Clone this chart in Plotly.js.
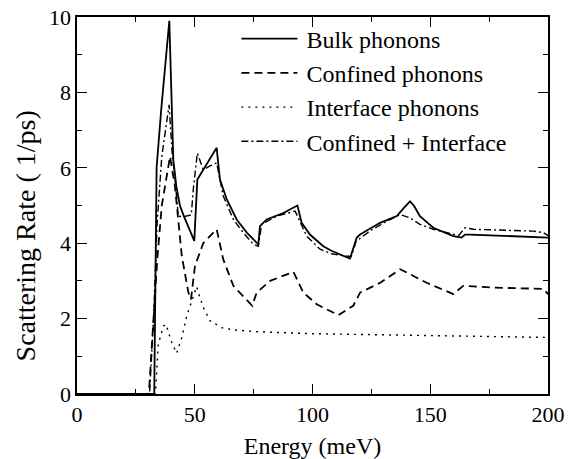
<!DOCTYPE html>
<html>
<head>
<meta charset="utf-8">
<script src="https://cdn.plot.ly/plotly-3.0.1.min.js"></script>
<style>
html,body{margin:0;padding:0;background:#fff;}
#chart{width:568px;height:459px;}
</style>
</head>
<body>
<div id="chart"></div>
<script>
// Bulk phonons
var bulkX = [0, 32.8, 33.8, 35.7, 39.2, 40.9, 42.2, 43.7, 45.5, 47.3, 49.8, 51.1, 55, 59.3, 60.7, 63.6, 67.8, 72.1, 77.0, 77.7, 80.5, 87.6, 93.6, 95.4, 98.9, 104.6, 108, 111.7, 115.9, 118.8, 120.2, 128.7, 135.8, 139, 141.4, 143, 145.6, 151.3, 159.8, 163.3, 164.8, 166.9, 200];
var bulkY = [0, 0, 6.0, 7.5, 9.9, 6.2, 5.5, 5.0, 4.7, 4.45, 4.06, 5.69, 6.1, 6.53, 5.69, 5.16, 4.63, 4.28, 3.97, 4.45, 4.63, 4.8, 5.0, 4.54, 4.23, 3.92, 3.8, 3.70, 3.59, 4.15, 4.23, 4.54, 4.72, 4.95, 5.11, 5.0, 4.72, 4.41, 4.19, 4.15, 4.23, 4.23, 4.15];
// Confined phonons
var confX = [0, 30.5, 32, 34, 36, 39.5, 41.6, 44.5, 47.3, 48.4, 50.1, 53.6, 59.3, 62.1, 66.4, 74.4, 76.3, 82, 91.9, 96.1, 101.8, 111, 117.3, 120.2, 128.7, 137.2, 148.5, 159.8, 164, 176.8, 198, 200];
var confY = [0, 0, 1.5, 3.5, 5.0, 6.3, 5.5, 3.66, 2.69, 2.51, 3.4, 4.0, 4.37, 3.57, 2.87, 2.34, 2.69, 3.0, 3.24, 2.69, 2.38, 2.09, 2.34, 2.69, 2.95, 3.31, 2.95, 2.65, 2.87, 2.82, 2.79, 2.65];
// Interface phonons
var intfX = [0, 33.3, 34.5, 36.7, 37.8, 40, 42.3, 44.5, 46.6, 49.4, 50.8, 52, 53.6, 56.5, 59.3, 61.4, 66.4, 77, 100, 150, 198, 200];
var intfY = [0, 0, 1.32, 1.8, 1.85, 1.4, 1.08, 1.5, 2.07, 2.6, 2.85, 2.6, 2.3, 1.94, 1.85, 1.76, 1.7, 1.65, 1.6, 1.55, 1.5, 1.5];
// Confined + Interface
var sumX = [0, 30.8, 32.5, 34, 36, 39.1, 40.5, 41.5, 43, 45, 48.5, 49.5, 51.1, 53.6, 56.5, 59.3, 62.1, 66.4, 70.6, 74.9, 77.0, 78.4, 84.8, 92.6, 94, 97.5, 103.2, 108, 113.8, 116.5, 118.5, 125, 132, 137.2, 141.4, 145.6, 151.3, 159.8, 162, 164.8, 168.3, 193.8, 198, 200];
var sumY = [0, 0, 2.0, 4.5, 6.3, 7.67, 6.3, 5.8, 4.72, 4.7, 4.75, 5.5, 6.39, 5.95, 6.05, 6.13, 5.25, 4.63, 4.28, 3.97, 3.92, 4.5, 4.72, 4.85, 4.67, 4.19, 3.84, 3.72, 3.66, 3.65, 4.05, 4.35, 4.6, 4.76, 4.67, 4.5, 4.37, 4.23, 4.2, 4.41, 4.37, 4.32, 4.28, 4.2];

var seriesNames = ["Bulk phonons", "Confined phonons", "Interface phonons", "Confined + Interface"];
var xTickVals = [0, 50, 100, 150, 200];
var yTickVals = [0, 2, 4, 6, 8, 10];
var xTitle = "Energy (meV)";
var yTitle = "Scattering Rate ( 1/ps)";

var FONT = "Liberation Serif";
var traces = [
  {x: bulkX, y: bulkY, name: seriesNames[0], mode: "lines", line: {color: "#000", width: 1.8, dash: "solid"}},
  {x: confX, y: confY, name: seriesNames[1], mode: "lines", line: {color: "#000", width: 1.8, dash: "8px,5px"}},
  {x: intfX, y: intfY, name: seriesNames[2], mode: "lines", line: {color: "#000", width: 1.4, dash: "2px,5px"}},
  {x: sumX, y: sumY, name: seriesNames[3], mode: "lines", line: {color: "#000", width: 1.4, dash: "7px,3px,2px,3px"}}
];

var axisCommon = {
  showgrid: false, zeroline: false, showline: true, linecolor: "#000", linewidth: 1.6,
  mirror: "allticks", ticks: "inside", ticklen: 10, tickwidth: 1.2, tickcolor: "#000",
  tickfont: {family: FONT, size: 22, color: "#000"}
};

var layout = {
  width: 568, height: 459,
  margin: {l: 77, r: 20, t: 17, b: 65},
  paper_bgcolor: "#fff", plot_bgcolor: "#fff",
  font: {family: FONT, color: "#000"},
  showlegend: true,
  legend: {x: 0.3384, y: 1.001, xanchor: "left", yanchor: "top", bgcolor: "rgba(0,0,0,0)",
           font: {family: FONT, size: 24, color: "#000"}, itemwidth: 60, tracegroupgap: 0},
  xaxis: Object.assign({}, axisCommon, {
    range: [0, 200], tickvals: xTickVals, ticktext: xTickVals.map(String),
    minor: {dtick: 25, ticks: "inside", ticklen: 5, tickcolor: "#000", tickwidth: 1},
    title: {text: xTitle, font: {family: FONT, size: 24, color: "#000"}, standoff: 13}
  }),
  yaxis: Object.assign({}, axisCommon, {
    range: [0, 10], tickvals: yTickVals, ticktext: yTickVals.map(String),
    minor: {dtick: 1, ticks: "inside", ticklen: 5, tickcolor: "#000", tickwidth: 1}
  }),
  annotations: [{
    text: yTitle, xref: "paper", yref: "paper", x: -0.1104, y: 0.418,
    xanchor: "center", yanchor: "middle", textangle: -90, showarrow: false,
    font: {family: FONT, size: 28, color: "#000"}
  }]
};

Plotly.newPlot("chart", traces, layout, {displayModeBar: false, staticPlot: true}).then(function(gd){
  var paths = gd.querySelectorAll(".legend .legendlines path");
  paths.forEach(function(p){ p.setAttribute("d", "M5,0h56"); });
});
</script>
</body>
</html>
